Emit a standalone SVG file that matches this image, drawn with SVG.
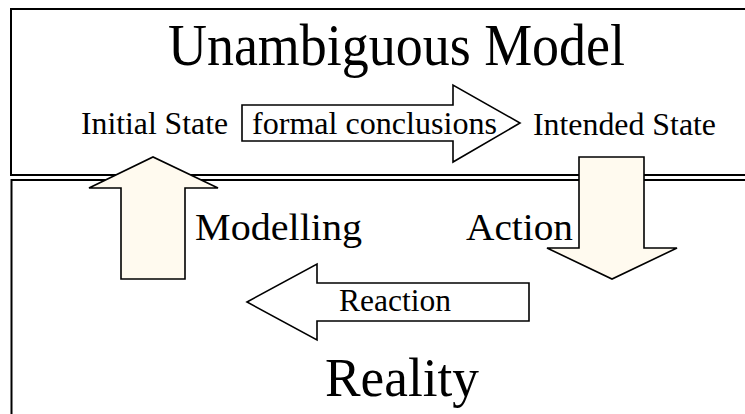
<svg xmlns="http://www.w3.org/2000/svg" width="745" height="414" viewBox="0 0 745 414">
<style>
.box{fill:#ffffff;stroke:#000000;stroke-width:2}
.arr{stroke:#000000;stroke-width:1.6;stroke-linejoin:miter}
.cream{fill:#fffaef}
.white{fill:#ffffff}
text{font-family:"Liberation Serif","Times New Roman",serif;fill:#000000}
</style>
<rect x="0" y="0" width="745" height="414" fill="#ffffff"/>
<g id="model">
<rect class="box" x="11" y="9" width="740" height="166"/>
<text x="168" y="65" font-size="60" textLength="457" lengthAdjust="spacingAndGlyphs">Unambiguous Model</text>
</g>
<g id="reality">
<rect class="box" x="11.5" y="180" width="740" height="240"/>
<text x="325" y="396" font-size="54" textLength="154" lengthAdjust="spacingAndGlyphs">Reality</text>
</g>
<g id="initial-state">
<text x="81" y="134" font-size="32" textLength="147" lengthAdjust="spacingAndGlyphs">Initial State</text>
</g>
<g id="intended-state">
<text x="533" y="135" font-size="32" textLength="183" lengthAdjust="spacingAndGlyphs">Intended State</text>
</g>
<g id="connectors">
<g id="formal-conclusions">
<polygon class="arr white" points="242,105 453,105 453,85 520,123 453,162 453,141 242,141"/>
<text x="252" y="134" font-size="32" textLength="245" lengthAdjust="spacingAndGlyphs">formal conclusions</text>
</g>
<g id="modelling">
<polygon class="arr cream" points="121,279 121,188 89,188 153,157 218,188 185,188 185,279"/>
<text x="195" y="240" font-size="37" textLength="167" lengthAdjust="spacingAndGlyphs">Modelling</text>
</g>
<g id="action">
<polygon class="arr cream" points="579,157 644,157 644,248 677,248 612,279 547,248 579,248"/>
<text x="466" y="240" font-size="37" textLength="107" lengthAdjust="spacingAndGlyphs">Action</text>
</g>
<g id="reaction">
<polygon class="arr white" points="247,302 317,264 317,283 529,283 529,321 317,321 317,340"/>
<text x="339" y="311" font-size="31" textLength="112" lengthAdjust="spacingAndGlyphs">Reaction</text>
</g>
</g>
</svg>
